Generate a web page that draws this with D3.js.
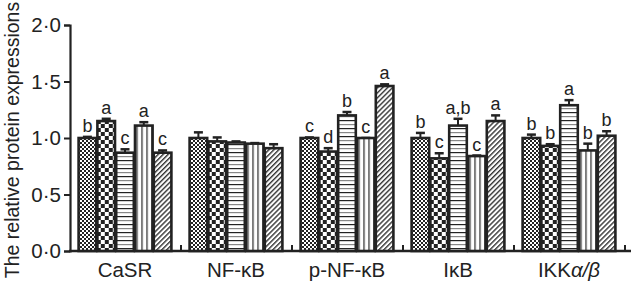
<!DOCTYPE html>
<html>
<head>
<meta charset="utf-8">
<script src="https://cdn.jsdelivr.net/npm/d3@7"></script>
<style>
  body { margin: 0; background: #fff; }
  text { font-family: "Liberation Sans", Arial, sans-serif; fill: #222; }
</style>
</head>
<body>
<svg id="chart" width="631" height="282"></svg>
<script>
// data
var categories = ['CaSR', 'NF-κB', 'p-NF-κB', 'IκB', 'IKKα/β']
var groups = ['g1', 'g2', 'g3', 'g4', 'g5']
var values = [
  [1.00, 1.15, 0.87, 1.11, 0.87],
  [1.00, 0.97, 0.96, 0.95, 0.91],
  [1.00, 0.88, 1.20, 1.00, 1.46],
  [1.00, 0.82, 1.11, 0.84, 1.15],
  [1.00, 0.93, 1.29, 0.89, 1.02]
]
var errors = [
  [0.01, 0.02, 0.03, 0.03, 0.02],
  [0.05, 0.035, 0.01, 0.005, 0.035],
  [0.005, 0.03, 0.03, 0, 0.015],
  [0.045, 0.045, 0.06, 0.005, 0.05],
  [0.03, 0.015, 0.045, 0.06, 0.04]
]
var letters = [
  ['b', 'a', 'c', 'a', 'c'],
  ['', '', '', '', ''],
  ['c', 'd', 'b', 'c', 'a'],
  ['b', 'c', 'a,b', 'c', 'a'],
  ['b', 'b', 'a', 'b', 'b']
]
var yTicks = [0, 0.5, 1.0, 1.5, 2.0]

var svg = d3.select('#chart')
var ink = '#222'

// fill patterns
var defs = svg.append('defs')
var p1 = defs.append('pattern').attr('id', 'pat0').attr('patternUnits', 'userSpaceOnUse')
  .attr('width', 4).attr('height', 4)
p1.append('rect').attr('width', 4).attr('height', 4).attr('fill', '#fff')
p1.append('rect').attr('width', 2).attr('height', 2).attr('fill', ink)
p1.append('rect').attr('x', 2).attr('y', 2).attr('width', 2).attr('height', 2).attr('fill', ink)

var p2 = defs.append('pattern').attr('id', 'pat1').attr('patternUnits', 'userSpaceOnUse')
  .attr('width', 8).attr('height', 8)
p2.append('rect').attr('width', 8).attr('height', 8).attr('fill', '#fff')
p2.append('rect').attr('width', 4).attr('height', 4).attr('fill', ink)
p2.append('rect').attr('x', 4).attr('y', 4).attr('width', 4).attr('height', 4).attr('fill', ink)

var p3 = defs.append('pattern').attr('id', 'pat2').attr('patternUnits', 'userSpaceOnUse')
  .attr('width', 8).attr('height', 8)
p3.append('rect').attr('width', 8).attr('height', 8).attr('fill', '#fff')
p3.append('rect').attr('y', 0).attr('width', 8).attr('height', 1.2).attr('fill', ink)
p3.append('rect').attr('y', 4).attr('width', 8).attr('height', 1.2).attr('fill', '#888')

var p4 = defs.append('pattern').attr('id', 'pat3').attr('patternUnits', 'userSpaceOnUse')
  .attr('width', 5).attr('height', 5)
p4.append('rect').attr('width', 5).attr('height', 5).attr('fill', '#fff')
p4.append('rect').attr('x', 2).attr('width', 1.2).attr('height', 5).attr('fill', ink)

var p5 = defs.append('pattern').attr('id', 'pat4').attr('patternUnits', 'userSpaceOnUse')
  .attr('width', 3.5).attr('height', 3.5).attr('patternTransform', 'rotate(45)')
p5.append('rect').attr('width', 3.5).attr('height', 3.5).attr('fill', '#fff')
p5.append('rect').attr('width', 1.4).attr('height', 3.5).attr('fill', '#333')

// scales
var x0 = d3.scaleBand().domain(categories).range([70, 625]).paddingInner(0).paddingOuter(0)
var x1 = d3.scaleBand().domain(groups).range([8, 102])
var y = d3.scaleLinear().domain([0, 2]).range([251, 25])

// y axis
var yAxis = svg.append('g').attr('transform', 'translate(70,0)')
  .call(d3.axisLeft(y).tickValues(yTicks).tickSize(6).tickFormat(d => d3.format('.1f')(d).replace('.', '·')))
yAxis.select('.domain').attr('stroke', ink).attr('stroke-width', 2.2)
yAxis.selectAll('.tick line').attr('stroke', ink).attr('stroke-width', 2)
yAxis.selectAll('.tick text').attr('font-size', 20.5).attr('fill', ink).attr('x', -9)
  .style('font-family', '"Liberation Sans", Arial, sans-serif')

// x baseline with ticks at band boundaries
svg.append('line').attr('x1', 69).attr('x2', 631).attr('y1', y(0)).attr('y2', y(0))
  .attr('stroke', ink).attr('stroke-width', 2.5)
svg.selectAll('.xtick').data(categories).enter().append('line')
  .attr('x1', d => x0(d) + x0.bandwidth()).attr('x2', d => x0(d) + x0.bandwidth())
  .attr('y1', y(0)).attr('y2', y(0) - 6)
  .attr('stroke', ink).attr('stroke-width', 2)

// bars
var rows = []
categories.forEach(function (c, i) {
  groups.forEach(function (g, j) {
    rows.push({ cat: c, g: g, j: j, v: values[i][j], e: errors[i][j], l: letters[i][j] })
  })
})

var bar = svg.selectAll('.bar').data(rows).enter().append('g')
  .attr('transform', d => 'translate(' + (x0(d.cat) + x1(d.g)) + ',0)')

bar.append('line')
  .attr('x1', x1.bandwidth() / 2).attr('x2', x1.bandwidth() / 2)
  .attr('y1', d => y(d.v)).attr('y2', d => y(d.v + d.e))
  .attr('stroke', ink).attr('stroke-width', 2)
bar.append('line')
  .attr('x1', x1.bandwidth() / 2 - 4.5).attr('x2', x1.bandwidth() / 2 + 4.5)
  .attr('y1', d => y(d.v + d.e)).attr('y2', d => y(d.v + d.e))
  .attr('stroke', ink).attr('stroke-width', 2.5)

bar.append('rect')
  .attr('x', 0.6).attr('width', x1.bandwidth() - 1.2)
  .attr('y', d => y(d.v)).attr('height', d => y(0) - y(d.v))
  .attr('fill', d => 'url(#pat' + d.j + ')')
  .attr('stroke', ink).attr('stroke-width', 2.6)

bar.append('text')
  .attr('x', x1.bandwidth() / 2).attr('y', d => y(d.v + d.e) - 5)
  .attr('text-anchor', 'middle').attr('font-size', 18)
  .text(d => d.l)

// category labels, alpha/beta set in italic
var catLabel = svg.selectAll('.cat').data(categories).enter().append('text')
  .attr('x', d => x0(d) + x1.range()[0] + (x1.range()[1] - x1.range()[0]) / 2)
  .attr('y', 277).attr('text-anchor', 'middle').attr('font-size', 20.5)
catLabel.each(function (d) {
  var t = d3.select(this)
  d.split(/([α/β]+)/).forEach(function (part) {
    if (!part) return
    var ts = t.append('tspan').text(part)
    if (/[α/β]/.test(part)) ts.style('font-style', 'italic')
  })
})

// y title
svg.append('text')
  .attr('transform', 'translate(19,140) rotate(-90)')
  .attr('text-anchor', 'middle').attr('font-size', 19.5)
  .text('The relative protein expressions')
</script>
</body>
</html>
